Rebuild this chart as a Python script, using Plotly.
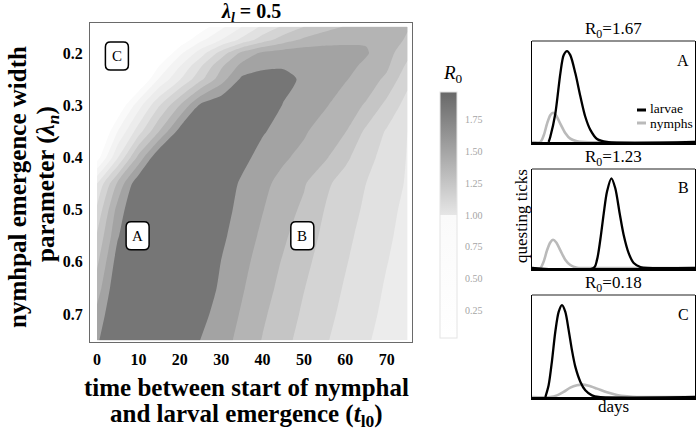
import plotly.graph_objects as go

# ---------------- data ----------------
t_lag = [0, 5, 10, 15, 20, 25, 30, 35, 40, 45, 50, 55, 60, 65, 70, 75]
lambda_n = [0.15, 0.175, 0.2, 0.225, 0.25, 0.3, 0.35, 0.4, 0.45, 0.5, 0.55, 0.6, 0.65, 0.7, 0.75]
r0_grid = [
    [0.10, 0.18, 0.28, 0.40, 0.55, 0.74, 0.875, 1.00, 1.12, 1.217, 1.30, 1.37, 1.405, 1.42, 1.425, 1.41],
    [0.12, 0.22, 0.35, 0.52, 0.72, 0.875, 1.00, 1.125, 1.25, 1.35, 1.42, 1.45, 1.47, 1.49, 1.46, 1.385],
    [0.15, 0.27, 0.44, 0.66, 0.874, 1.048, 1.241, 1.426, 1.52, 1.55, 1.56, 1.56, 1.545, 1.51, 1.44, 1.33],
    [0.18, 0.33, 0.54, 0.80, 0.996, 1.188, 1.384, 1.53, 1.58, 1.59, 1.575, 1.555, 1.53, 1.48, 1.418, 1.28],
    [0.22, 0.42, 0.66, 0.909, 1.091, 1.273, 1.455, 1.62, 1.64, 1.63, 1.583, 1.545, 1.508, 1.452, 1.38, 1.23],
    [0.30, 0.70, 0.956, 1.189, 1.40, 1.62, 1.68, 1.69, 1.66, 1.596, 1.554, 1.512, 1.447, 1.39, 1.27, 1.16],
    [0.62, 0.90, 1.15, 1.40, 1.64, 1.70, 1.71, 1.69, 1.61, 1.56, 1.514, 1.45, 1.405, 1.28, 1.19, 1.10],
    [0.75, 1.093, 1.43, 1.70, 1.74, 1.74, 1.71, 1.63, 1.564, 1.515, 1.47, 1.416, 1.322, 1.233, 1.163, 1.095],
    [1.10, 1.42, 1.68, 1.74, 1.75, 1.72, 1.66, 1.585, 1.525, 1.467, 1.41, 1.323, 1.257, 1.20, 1.145, 1.09],
    [1.22, 1.54, 1.72, 1.76, 1.76, 1.72, 1.64, 1.568, 1.504, 1.443, 1.38, 1.298, 1.24, 1.185, 1.13, 1.075],
    [1.31, 1.59, 1.74, 1.77, 1.76, 1.71, 1.62, 1.55, 1.482, 1.417, 1.347, 1.28, 1.223, 1.168, 1.117, 1.065],
    [1.38, 1.65, 1.75, 1.77, 1.75, 1.69, 1.598, 1.529, 1.459, 1.391, 1.323, 1.263, 1.207, 1.155, 1.103, 1.06],
    [1.45, 1.69, 1.76, 1.77, 1.74, 1.67, 1.58, 1.51, 1.439, 1.37, 1.303, 1.246, 1.191, 1.14, 1.09, 1.05],
    [1.53, 1.71, 1.76, 1.76, 1.72, 1.63, 1.56, 1.49, 1.416, 1.348, 1.285, 1.229, 1.176, 1.125, 1.08, 1.045],
    [1.585, 1.72, 1.76, 1.75, 1.70, 1.598, 1.538, 1.47, 1.395, 1.327, 1.267, 1.211, 1.16, 1.11, 1.07, 1.04],
]
x_tick_vals = [0, 10, 20, 30, 40, 50, 60, 70]
y_tick_vals = [0.2, 0.3, 0.4, 0.5, 0.6, 0.7]
cbar_tick_vals = [0.25, 0.50, 0.75, 1.00, 1.25, 1.50, 1.75]

site_names = ["A", "B", "C"]
site_t = [9.8, 49.6, 4.8]
site_lambda = [0.55, 0.55, 0.206]
site_r0 = ["1.67", "1.23", "0.18"]

# questing-tick curves for the three sites (days, relative abundance)
A_larvae_day = [10.2, 11.2, 14.3, 17.4, 19.4, 21.5, 23.5, 26.6, 29.7, 32.7, 35.8, 39.9, 46.0, 100]
A_larvae_val = [0.0, 0.05, 0.28, 0.68, 0.86, 0.90, 0.86, 0.68, 0.45, 0.25, 0.12, 0.03, 0.0, 0.0]
A_nymph_day = [0, 5.1, 7.2, 9.2, 11.2, 12.9, 14.9, 17.4, 20.4, 23.5, 27.6, 32, 100]
A_nymph_val = [0.0, 0.0, 0.066, 0.18, 0.265, 0.29, 0.26, 0.18, 0.09, 0.033, 0.007, 0.0, 0.0]

B_larvae_day = [0, 37.8, 39.9, 41.9, 44.0, 46.0, 48.7, 51.1, 53.8, 56.2, 59.3, 62.4, 66.5, 70.6, 100]
B_larvae_val = [0.0, 0.0, 0.084, 0.285, 0.55, 0.77, 0.906, 0.805, 0.55, 0.336, 0.15, 0.05, 0.01, 0.0, 0.0]
B_nymph_day = [0, 5.1, 7.2, 9.2, 11.2, 12.9, 14.9, 17.4, 20.4, 23.5, 27.6, 32, 100]
B_nymph_val = [0.0, 0.0, 0.067, 0.178, 0.258, 0.285, 0.258, 0.178, 0.084, 0.03, 0.003, 0.0, 0.0]

C_larvae_day = [8.2, 10.2, 12.3, 14.3, 16.4, 18.4, 20.4, 22.5, 24.5, 26.6, 29.7, 32.7, 36.8, 40.9, 100]
C_larvae_val = [0.0, 0.115, 0.36, 0.64, 0.836, 0.90, 0.836, 0.656, 0.46, 0.295, 0.148, 0.066, 0.016, 0.0, 0.0]
C_nymph_day = [0, 11.2, 15.3, 19.4, 23.5, 27.6, 30.7, 34.8, 39.9, 46.0, 52.1, 58.3, 64.4, 100]
C_nymph_val = [0.0, 0.0, 0.016, 0.05, 0.092, 0.115, 0.121, 0.11, 0.082, 0.046, 0.02, 0.007, 0.0, 0.0]

# ---------------- styling ----------------
W, H = 697, 431
SERIF = "Liberation Serif, Times New Roman, DejaVu Serif, serif"


def px_x(p):
    return p / W


def px_y(p):
    return 1 - p / H


band_colors = ["#ffffff", "#fafafa", "#f3f3f3", "#ececec", "#e1e1e1",
               "#d4d4d4", "#c5c5c5", "#b4b4b4", "#a3a3a3", "#767676"]
nb = len(band_colors) - 1
band_scale = []
for k, c in enumerate(band_colors):
    lo = max(0.0, (k - 0.5) / nb)
    hi = min(1.0, (k + 0.5) / nb)
    band_scale.append([lo, c])
    band_scale.append([hi, c])

cbar_min, cbar_max = 0.03, 1.97
mid = (1.0 - cbar_min) / (cbar_max - cbar_min)
cbar_scale = [[0, "#ffffff"], [mid - 0.002, "#fafafa"], [mid, "#e6e6e6"], [1, "#686868"]]

fig = go.Figure()

fig.add_trace(go.Contour(
    x=t_lag, y=lambda_n, z=r0_grid,
    autocontour=False,
    contours=dict(start=0.8, end=1.6, size=0.1, coloring="fill", showlines=False),
    colorscale=band_scale, showscale=False,
    line=dict(width=0, smoothing=0.7),
    hoverinfo="skip", xaxis="x", yaxis="y",
))

# continuous colour bar (as in the reference)
fig.add_trace(go.Scatter(
    x=[None, None], y=[None, None], mode="markers", showlegend=False, hoverinfo="skip",
    marker=dict(color=[cbar_min, cbar_max], cmin=cbar_min, cmax=cbar_max,
                colorscale=cbar_scale, showscale=True,
                colorbar=dict(x=px_x(440), xanchor="left", y=px_y(92), yanchor="top",
                              len=246, lenmode="pixels", thickness=17, thicknessmode="pixels",
                              xpad=0, ypad=0, outlinewidth=1, outlinecolor="#e4e4e4",
                              tickvals=cbar_tick_vals,
                              ticktext=[f"{v:.2f}" for v in cbar_tick_vals],
                              ticks="outside", ticklen=6, tickcolor="rgba(255,255,255,0)",
                              tickfont=dict(family=SERIF, size=10, color="#a5a5a5"))),
    xaxis="x", yaxis="y",
))

# small panels
panels = [
    ("2", A_larvae_day, A_larvae_val, A_nymph_day, A_nymph_val),
    ("3", B_larvae_day, B_larvae_val, B_nymph_day, B_nymph_val),
    ("4", C_larvae_day, C_larvae_val, C_nymph_day, C_nymph_val),
]
for ax, ld, lv, nd, nv in panels:
    fig.add_trace(go.Scatter(x=nd, y=nv, mode="lines", line=dict(color="#bababa", width=2.6, shape="spline", smoothing=0.8),
                             showlegend=False, hoverinfo="skip", xaxis="x" + ax, yaxis="y" + ax, name="nymphs"))
    fig.add_trace(go.Scatter(x=ld, y=lv, mode="lines", line=dict(color="black", width=2.3, shape="spline", smoothing=0.8),
                             showlegend=False, hoverinfo="skip", xaxis="x" + ax, yaxis="y" + ax, name="larvae"))

tick_font = dict(family=SERIF, size=16, color="black", weight="bold")
layout = dict(
    width=W, height=H, margin=dict(l=0, r=0, t=0, b=0), autosize=False,
    paper_bgcolor="white", plot_bgcolor="white", showlegend=False,
    xaxis=dict(domain=[px_x(90), px_x(412)], range=[-1.7, 76.1], tickvals=x_tick_vals,
               tickfont=tick_font, showgrid=False, zeroline=False, showline=True, mirror=True,
               linecolor="#6a6a6a", linewidth=1.2, ticks="outside", ticklen=3,
               tickcolor="rgba(0,0,0,0)", anchor="y"),
    yaxis=dict(domain=[px_y(342), px_y(23)], range=[0.7535, 0.1427], tickvals=y_tick_vals,
               ticktext=[f"{v:.1f}" for v in y_tick_vals],
               tickfont=tick_font, showgrid=False, zeroline=False, showline=True, mirror=True,
               linecolor="#6a6a6a", linewidth=1.2, ticks="outside", ticklen=3,
               tickcolor="rgba(0,0,0,0)", anchor="x"),
)
panel_box = {"2": (41, 142), "3": (169, 268), "4": (295, 397)}
for ax, (top, bot) in panel_box.items():
    layout["xaxis" + ax] = dict(domain=[px_x(532), px_x(695)], range=[0, 100], showgrid=False, zeroline=False,
                                showticklabels=False, ticks="", showline=True, linecolor="black",
                                linewidth=2.6, mirror=False, anchor="y" + ax)
    layout["yaxis" + ax] = dict(domain=[px_y(bot), px_y(top)], range=[0, 1.0], showgrid=False, zeroline=False,
                                showticklabels=False, ticks="", showline=True, linecolor="black",
                                linewidth=1.3, mirror=True, anchor="x" + ax)
fig.update_layout(**layout)

shapes = []
annotations = []


def note(**kw):
    base = dict(showarrow=False, xanchor="center", yanchor="middle")
    base.update(kw)
    annotations.append(base)


# rounded label boxes on the contour map
def rounded_rect(w, h, r):
    x0, x1, y0, y1 = -w / 2, w / 2, -h / 2, h / 2
    return (f"M {x0 + r},{y0} L {x1 - r},{y0} Q {x1},{y0} {x1},{y0 + r} "
            f"L {x1},{y1 - r} Q {x1},{y1} {x1 - r},{y1} L {x0 + r},{y1} "
            f"Q {x0},{y1} {x0},{y1 - r} L {x0},{y0 + r} Q {x0},{y0} {x0 + r},{y0} Z")


for name, tt, ll in zip(site_names, site_t, site_lambda):
    shapes.append(dict(type="path", xref="x", yref="y", xsizemode="pixel", ysizemode="pixel",
                       xanchor=tt, yanchor=ll, path=rounded_rect(23, 28, 5),
                       fillcolor="white", line=dict(color="black", width=1.5), layer="above"))
    note(x=tt, y=ll, xref="x", yref="y", text=name, font=dict(family=SERIF, size=15, color="black"))

# top border line of small panels
for ax in panel_box:
    shapes.append(dict(type="line", xref=f"x{ax} domain", yref=f"y{ax} domain", x0=0, x1=1, y0=1, y1=1,
                       line=dict(color="#222222", width=1.2)))

# legend in panel A
shapes.append(dict(type="line", xref="paper", yref="paper", x0=px_x(637), x1=px_x(646),
                   y0=px_y(110), y1=px_y(110), line=dict(color="black", width=3)))
shapes.append(dict(type="line", xref="paper", yref="paper", x0=px_x(637), x1=px_x(646),
                   y0=px_y(123), y1=px_y(123), line=dict(color="#bababa", width=3)))
note(x=px_x(648), y=px_y(108.5), xref="paper", yref="paper", xanchor="left",
     text="larvae", font=dict(family=SERIF, size=13.5, color="black"))
note(x=px_x(648), y=px_y(124), xref="paper", yref="paper", xanchor="left",
     text="nymphs", font=dict(family=SERIF, size=13.5, color="black"))

# panel titles and letters
for ax, name, r0 in zip(panel_box, site_names, site_r0):
    note(x=0.5, y=1, xref=f"x{ax} domain", yref=f"y{ax} domain", yanchor="bottom",
         yshift=-2, text=f"R<sub>0</sub>={r0}", font=dict(family=SERIF, size=17, color="black"))
    note(x=0.975, y=0.81, xref=f"x{ax} domain", yref=f"y{ax} domain", xanchor="right",
         text=name, font=dict(family=SERIF, size=16, color="black"))

note(x=px_x(521), y=px_y(216), xref="paper", yref="paper", text="questing ticks",
     textangle=-90, font=dict(family=SERIF, size=17, color="black"))
note(x=px_x(613), y=px_y(406), xref="paper", yref="paper", text="days",
     font=dict(family=SERIF, size=17, color="black"))

# main titles
bold = dict(family=SERIF, color="black", weight="bold")
note(x=px_x(251), y=px_y(12.5), xref="paper", yref="paper",
     text="<i>λ</i><sub><i>l</i></sub> = 0.5", font=dict(size=20, **bold))
note(x=px_x(17), y=px_y(187), xref="paper", yref="paper", text="nymhpal emergence width",
     textangle=-90, font=dict(size=25, **bold))
note(x=px_x(47), y=px_y(184), xref="paper", yref="paper",
     text="parameter (<i>λ</i><sub><i>n</i></sub>)", textangle=-90, font=dict(size=25, **bold))
note(x=px_x(246), y=px_y(387), xref="paper", yref="paper",
     text="time between start of nymphal", font=dict(size=25, **bold))
note(x=px_x(246), y=px_y(415), xref="paper", yref="paper",
     text="and larval emergence (<i>t</i><sub>l0</sub>)", font=dict(size=25, **bold))
note(x=px_x(441), y=px_y(74), xref="paper", yref="paper", xanchor="left",
     text="<i>R</i><sub>0</sub>", font=dict(family=SERIF, size=19, color="black"))

fig.update_layout(shapes=shapes, annotations=annotations)
fig.write_html("out.html", include_plotlyjs=True, config={"displayModeBar": False},
               post_script="document.body.style.margin='0';document.body.style.overflow='hidden';")
